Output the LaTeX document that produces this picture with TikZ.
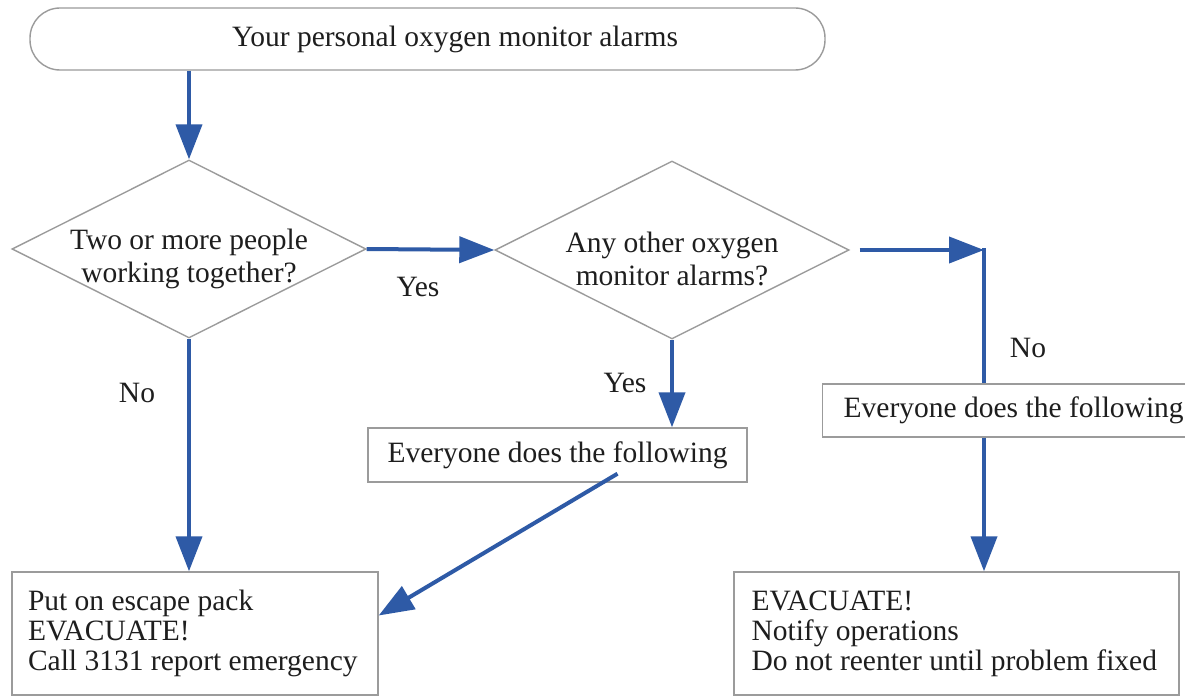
\documentclass[tikz,border=0pt]{standalone}
\usepackage{fontspec}
\setmainfont{Liberation Serif}
\usetikzlibrary{arrows.meta,shapes.geometric,calc}
\definecolor{flowblue}{RGB}{46,90,166}
\definecolor{edgegray}{RGB}{155,155,155}
\definecolor{inkgray}{RGB}{30,30,30}
\begin{document}
\begin{tikzpicture}[x=1pt,y=-1pt,
  every node/.style={font=\fontsize{29.5}{30}\selectfont, text=inkgray},
  outline/.style={draw=edgegray, line width=1.4pt, fill=white},
  terminal/.style={outline, rectangle, rounded corners=30pt, minimum width=795pt,
    minimum height=62pt, inner sep=0pt},
  decision/.style={outline, diamond, minimum width=354pt, minimum height=178pt,
    inner sep=0pt},
  question/.style={align=center, inner sep=0pt,
    font=\fontsize{29.5}{33}\selectfont},
  stepbox/.style={outline, rectangle, inner sep=0pt},
  flow/.style={draw=flowblue, line width=4pt, -{Triangle[length=35pt,width=26pt]}},
  flowline/.style={draw=flowblue, line width=4pt},
  branch/.style={inner sep=0pt}
]
\useasboundingbox (0,0) rectangle (1185,698);
\fill[white] (0,0) rectangle (1185,698);

% start of the procedure
\node[terminal, text width=795pt, align=flush left] (start) at (427.5,39)
  {\hspace*{202pt}Your personal oxygen monitor alarms};

% decisions, with their questions set a little below the centre
\node[decision] (team) at (189,249) {};
\node[question] (teamq) at ($(team.center)+(0,10)$) {Two or more people\\working together?};
\node[decision] (other) at (672,250) {};
\node[question] (otherq) at ($(other.center)+(0,9)$) {Any other oxygen\\monitor alarms?};

% intermediate steps (the right one runs on past the edge of the page)
\node[stepbox, minimum width=379pt, minimum height=54pt] (allA) at (557.5,455)
  {Everyone does the following};
\node[stepbox, minimum height=53pt, text width=420pt, inner xsep=21pt,
  align=flush left, anchor=west] (allB) at (822,410.5)
  {Everyone does the following};

% final actions
\node[stepbox, minimum width=366pt, minimum height=123pt, text width=334pt,
  align=flush left] (solo) at (195,633.5)
  {Put on escape pack\\EVACUATE!\\Call 3131 report emergency};
\node[stepbox, minimum width=445pt, minimum height=123pt, text width=410pt,
  align=flush left] (act) at (956.5,633.5)
  {EVACUATE!\\Notify operations\\Do not reenter until problem fixed};

% connectors
\draw[flow] (team.north |- start.south) -- (team.north);
\draw[flow] (team.east) -- (other.west);
\node[branch] (yesA) at (418,287) {Yes};
\draw[flow] (team.south) -- (team.south |- solo.north);
\node[branch] (noA) at (137,393) {No};
\draw[flow] (other.south) -- (other.south |- allA.north);
\node[branch] (yesB) at (625,383) {Yes};
\draw[flow] ($(allA.south)+(60,-9)$) -- ($(solo.east)+(0,-18)$);

\coordinate (bend) at (984,250);
\draw[flow] ($(other.east)+(10,0)$) -- (bend);
\draw[flowline] ($(bend)+(0,-2)$) -- (bend |- allB.north);
\node[branch] (noB) at (1028,348) {No};
\draw[flow] (bend |- allB.south) -- (bend |- act.north);
\end{tikzpicture}
\end{document}
